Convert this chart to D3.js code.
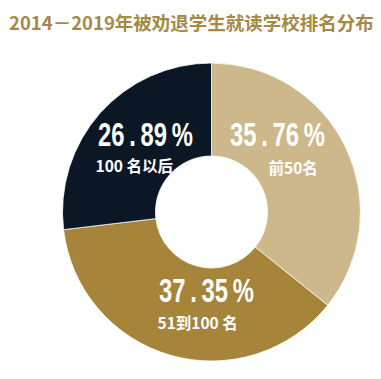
<!DOCTYPE html>
<html><head><meta charset="utf-8">
<script src="https://cdn.jsdelivr.net/npm/d3@7"></script>
<style>
html,body{margin:0;padding:0;background:#fff;}
svg{display:block;}
</style></head>
<body>
<svg id="chart" width="381" height="379"></svg>
<script>
const title = "2014－2019年被劝退学生就读学校排名分布";
const categories = ["前50名", "51到100 名", "100 名以后"];
const values = [35.76, 37.35, 26.89];
const valueLabels = ["35\u2009.\u200976\u2009%", "37\u2009.\u200935\u2009%", "26\u2009.\u200989\u2009%"];
const colors = ["#cdb88c", "#a6843a", "#0b1725"];

// label layout (offsets from donut center)
const labelLayout = [
  {px: 18.5, py: -66, sx: 57, sy: -38},
  {px: -52.5, py: 90, sx: -54, sy: 117},
  {px: -113.5, py: -66, sx: -116, sy: -40}
];

const svg = d3.select("#chart");
const cx = 211.5, cy = 212, rOuter = 149, rInner = 56;

svg.append("text")
  .attr("x", 9).attr("y", 30)
  .attr("font-family", "'Noto Sans CJK SC', sans-serif")
  .attr("font-weight", "bold")
  .attr("font-size", 18.5)
  .attr("fill", "#a58a45")
  .text(title);

const pie = d3.pie().sort(null).value(d => d)(values);
const arc = d3.arc().innerRadius(rInner).outerRadius(rOuter);

const g = svg.append("g").attr("transform", `translate(${cx},${cy})`);
g.selectAll("path.slice").data(pie).join("path")
  .attr("class", "slice")
  .attr("d", arc)
  .attr("fill", (d, i) => colors[i])
  .attr("stroke", "#ffffff")
  .attr("stroke-width", 0.8);

g.selectAll("text.pct").data(pie).join("text")
  .attr("class", "pct")
  .attr("x", (d, i) => labelLayout[i].px)
  .attr("y", (d, i) => labelLayout[i].py)
  .attr("font-family", "'Liberation Sans', Arial, sans-serif")
  .attr("font-weight", "bold")
  .attr("font-size", 33)
  .attr("textLength", 95)
  .attr("lengthAdjust", "spacingAndGlyphs")
  .attr("fill", "#ffffff")
  .text((d, i) => valueLabels[i]);

g.selectAll("text.cat").data(pie).join("text")
  .attr("class", "cat")
  .attr("x", (d, i) => labelLayout[i].sx)
  .attr("y", (d, i) => labelLayout[i].sy)
  .attr("font-family", "'Noto Sans CJK SC', sans-serif")
  .attr("font-weight", "bold")
  .attr("font-size", 15.5)
  .attr("fill", "#ffffff")
  .text((d, i) => categories[i]);
</script>
</body></html>
